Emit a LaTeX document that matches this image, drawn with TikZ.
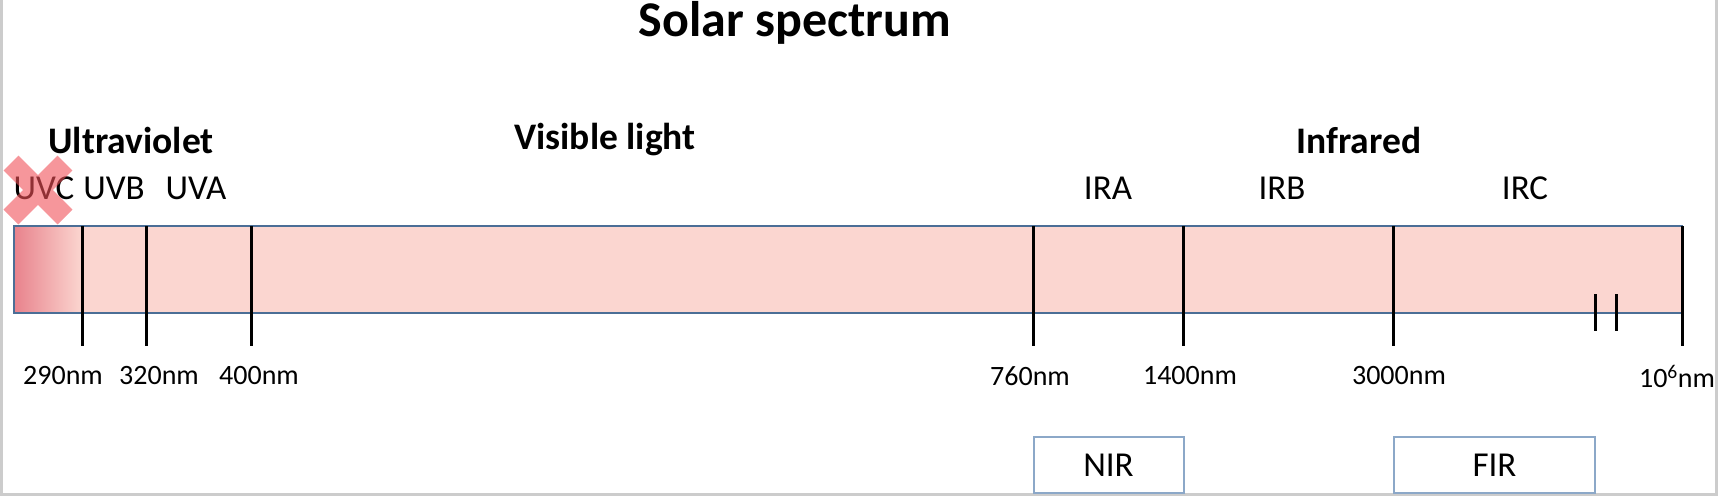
\documentclass[tikz,border=0pt]{standalone}
\usepackage{fontspec}
\setmainfont{Carlito}
\definecolor{barpink}{RGB}{251,214,208}
\definecolor{uvpink}{RGB}{232,130,140}
\definecolor{barline}{RGB}{75,110,150}
\definecolor{boxline}{RGB}{140,168,200}
\definecolor{crossred}{RGB}{240,80,88}

\begin{document}
\begin{tikzpicture}[x=1pt,y=-1pt,
  tick/.style={line width=3pt},
  head/.style={font=\fontsize{50}{54}\selectfont\bfseries},
  band/.style={font=\fontsize{37.5}{40}\selectfont\bfseries},
  sub/.style={font=\fontsize{35}{38}\selectfont},
  wl/.style={font=\fontsize{28}{30}\selectfont},
  rangebox/.style={draw=boxline, line width=2pt, fill=white, minimum height=56pt, font=\fontsize{35}{38}\selectfont}]
\useasboundingbox (0,0) rectangle (1718,496);
\draw[black!20, line width=3pt] (1.5,0) -- (1.5,494.5) -- (1716.5,494.5) -- (1716.5,0);

\node[head, anchor=base] (title) at (795,36) {Solar spectrum};

\node[band] (uv)  at (131,140)  {Ultraviolet};
\node[band] (vis) at (605,140)  {Visible light};
\node[band] (ir)  at (1359,140) {Infrared};

\node[sub] (uvc) at (44,188)   {UVC};
\node[sub] (uvb) at (114,188)  {UVB};
\node[sub] (uva) at (196,188)  {UVA};
\node[sub] (ira) at (1108,188) {IRA};
\node[sub] (irb) at (1282,188) {IRB};
\node[sub] (irc) at (1525,188) {IRC};

\fill[barpink] (14,226) rectangle (1682,313);
\shade[left color=uvpink, right color=barpink] (14,226) rectangle (82,313);
\draw[barline, line width=2pt] (14,226) rectangle (1682,313);

\foreach \x/\n/\lx/\t in {82/a/63/290nm, 146/b/159/320nm, 251/c/259/400nm,
    1033/d/1030/760nm, 1183/e/1190/1400nm, 1393/f/1399/3000nm, 1682/g/1677/10\textsuperscript{6}nm} {
  \coordinate (\n1) at (\x,226);
  \coordinate (\n2) at (\x,346);
  \draw[tick] (\n1) -- (\n2);
  \node[wl] (\n3) at (\lx,376) {\t};
}

\coordinate (br1) at (1595,294);
\coordinate (br2) at (1595,331);
\coordinate (br3) at (1616,294);
\coordinate (br4) at (1616,331);
\draw[tick] (br1) -- (br2);
\draw[tick] (br3) -- (br4);

\draw[crossred, opacity=0.6, line width=21pt] (11,163) -- (65,217) (11,217) -- (65,163);

\node[rangebox, minimum width=150pt] (nir) at (1108.5,465) {NIR};
\node[rangebox, minimum width=201pt] (fir) at (1494.5,465) {FIR};
\end{tikzpicture}
\end{document}
